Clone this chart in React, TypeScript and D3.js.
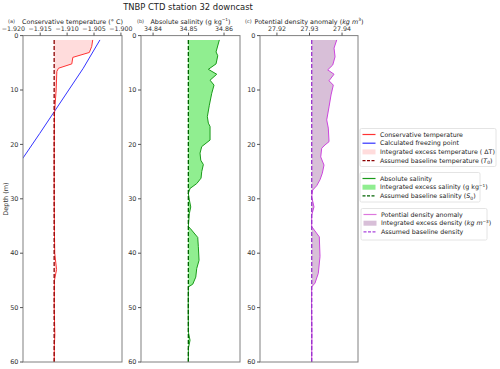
import React, { useRef, useEffect } from 'react';
import * as d3 from 'd3';

// data (depth in m)
const tempDepth = [0.8, 2, 3.1, 4, 5.2, 6, 6.6, 10, 14.4, 20, 30, 36, 40, 43, 45, 50, 55, 57, 60];
const consTemp = [-1.90524, -1.90543, -1.90587, -1.90894, -1.90913, -1.91161, -1.91191, -1.91204, -1.91235, -1.9124, -1.9124, -1.91236, -1.9123, -1.91196, -1.91236, -1.9124, -1.91228, -1.91238, -1.9124];
const tempBaseline = -1.91241;
const freezeDepth = [0.8, 6, 10, 14, 18, 22.5, 25];
const freezePoint = [-1.9039, -1.907, -1.9097, -1.9124, -1.9151, -1.9182, -1.9199];

const salDepth = [0.8, 3, 3.7, 5.2, 6.2, 7.1, 8.2, 9.1, 10.6, 12.8, 14.9, 16.1, 16.7, 19.2, 20.4, 21.6, 22.9, 23.7, 25, 26.2, 27.2, 28.1, 29, 30.2, 31.5, 32.7, 35.1, 35.4, 37.1, 38.8, 41.3, 42.8, 44.4, 45.7, 46.2, 50, 54.5, 56, 57.5, 60];
const salinity = [34.85868, 34.85775, 34.85823, 34.85775, 34.85558, 34.85794, 34.85606, 34.85718, 34.85654, 34.85586, 34.8553, 34.85558, 34.85606, 34.85606, 34.85372, 34.85324, 34.85344, 34.85417, 34.85372, 34.85352, 34.85231, 34.85042, 34.84994, 34.85023, 34.85062, 34.85023, 34.84994, 34.85042, 34.85259, 34.85276, 34.85296, 34.85231, 34.85203, 34.85118, 34.84994, 34.8499, 34.84995, 34.85042, 34.84995, 34.84994];
const salBaseline = 34.84994;

const densDepth = [0.8, 2.3, 3.9, 5.4, 6.3, 7.1, 8.3, 9.1, 10.9, 13.1, 15.5, 17, 19.5, 20.1, 20.7, 22.3, 23.8, 25.3, 26.5, 27.6, 28.4, 29.6, 31.5, 33, 35.1, 37, 40.6, 43.7, 45.5, 46.2, 50, 55, 60];
const density = [27.93837, 27.93754, 27.93785, 27.93714, 27.9356, 27.93754, 27.936, 27.93732, 27.93662, 27.936, 27.93529, 27.93578, 27.936, 27.93477, 27.93375, 27.93345, 27.93446, 27.93394, 27.93323, 27.93222, 27.93098, 27.93068, 27.93138, 27.93068, 27.93068, 27.93302, 27.93323, 27.93271, 27.93169, 27.93068, 27.93065, 27.93075, 27.93068];
const densBaseline = 27.93068;

const depthTicks = [0, 10, 20, 30, 40, 50, 60];
const tempTicks = [-1.92, -1.915, -1.91, -1.905, -1.9];
const salTicks = [34.84, 34.85, 34.86];
const densTicks = [27.92, 27.93, 27.94];

const legendTemp = ['Conservative temperature', 'Calculated freezing point', 'Integrated excess temperature ( ΔT)', 'Assumed baseline temperature'];
const legendSal = ['Absolute salinity', 'Integrated excess salinity (g kg', 'Assumed baseline salinity'];
const legendDens = ['Potential density anomaly', 'Integrated excess density', 'Assumed baseline density'];

const FONT = 'DejaVu Sans, sans-serif';

export default function App() {
  const ref = useRef<SVGSVGElement>(null);

  useEffect(() => {
    draw();
    // eslint-disable-next-line react-hooks/exhaustive-deps
  }, []);

  function panel(svg, opts) {
    const { id, x0, x1, domain, ticks, fmt, title, label, depth, values, baseline, line, fill, dash, extra } = opts;
    const x = d3.scaleLinear().domain(domain).range([x0, x1]);
    const y = d3.scaleLinear().domain([0, 60]).range([35.6, 362]);
    const g = svg.append('g');
    g.append('clipPath').attr('id', id).append('rect')
      .attr('x', x0).attr('y', y(0)).attr('width', x1 - x0).attr('height', y(60) - y(0));
    const body = g.append('g').attr('clip-path', `url(#${id})`);
    const pts = depth.map((d, i) => ({ d, v: values[i] }));
    const area = d3.area()
      .y((p) => y(p.d))
      .x0(x(baseline))
      .x1((p) => x(Math.max(p.v, baseline)));
    body.append('path').attr('d', area(pts)).attr('fill', fill);
    if (extra) {
      const fl = d3.line().x((p) => x(p.v)).y((p) => y(p.d));
      body.append('path')
        .attr('d', fl(extra.depth.map((d, i) => ({ d, v: extra.values[i] }))))
        .attr('fill', 'none').attr('stroke', extra.color).attr('stroke-width', 1);
    }
    const ln = d3.line().x((p) => x(p.v)).y((p) => y(p.d));
    body.append('path').attr('d', ln(pts)).attr('fill', 'none').attr('stroke', line).attr('stroke-width', 1);
    body.append('line')
      .attr('x1', x(baseline)).attr('x2', x(baseline))
      .attr('y1', y(depth[0])).attr('y2', y(depth[depth.length - 1]))
      .attr('stroke', dash).attr('stroke-width', 1.3).attr('stroke-dasharray', '4,2');

    // frame
    g.append('rect').attr('x', x0).attr('y', y(0)).attr('width', x1 - x0).attr('height', y(60) - y(0))
      .attr('fill', 'none').attr('stroke', '#808080').attr('stroke-width', 1);

    // depth ticks
    depthTicks.forEach((t) => {
      g.append('line').attr('x1', x0 - 3).attr('x2', x0).attr('y1', y(t)).attr('y2', y(t)).attr('stroke', '#555');
      g.append('text').attr('x', x0 - 4.5).attr('y', y(t)).attr('dy', '0.35em')
        .attr('text-anchor', 'end').attr('font-size', 6.5).attr('fill', '#333').attr('font-family', FONT).text(t);
    });
    // top ticks
    ticks.forEach((t) => {
      const px = x(t);
      if (px >= x0 - 0.5 && px <= x1 + 0.5) {
        g.append('line').attr('x1', px).attr('x2', px).attr('y1', y(0) - 3).attr('y2', y(0)).attr('stroke', '#555');
      }
      g.append('text').attr('x', px).attr('y', 31).attr('text-anchor', 'middle')
        .attr('font-size', 6.3).attr('fill', '#333').attr('font-family', FONT).text(fmt(t));
    });
    const tt = g.append('text').attr('x', (x0 + x1) / 2).attr('y', 24).attr('text-anchor', 'middle')
      .attr('font-size', 6.4).attr('fill', '#222').attr('font-family', FONT);
    title(tt);
    g.append('text').attr('x', label.x).attr('y', 22.5).attr('font-size', 5).attr('fill', '#333')
      .attr('font-family', FONT).text(label.t);
  }

  function legend(svg, x, y, w, h, items) {
    const g = svg.append('g');
    g.append('rect').attr('x', x).attr('y', y).attr('width', w).attr('height', h).attr('rx', 1.5)
      .attr('fill', 'white').attr('stroke', '#ddd').attr('stroke-width', 0.8);
    items.forEach((it, i) => {
      const cy = y + 6 + i * 8.7;
      if (it.kind === 'patch') {
        g.append('rect').attr('x', x + 2.5).attr('y', cy - 2.5).attr('width', 13).attr('height', 5).attr('fill', it.color);
      } else {
        g.append('line').attr('x1', x + 2.5).attr('x2', x + 15.5).attr('y1', cy).attr('y2', cy)
          .attr('stroke', it.color).attr('stroke-width', 1.2)
          .attr('stroke-dasharray', it.kind === 'dash' ? '3,1.5' : null);
      }
      const t = g.append('text').attr('x', x + 20).attr('y', cy).attr('dy', '0.35em')
        .attr('font-size', 6.3).attr('fill', '#222').attr('font-family', FONT);
      it.text(t);
    });
  }

  function draw() {
    const svg = d3.select(ref.current);
    svg.selectAll('*').remove();

    svg.append('text').attr('x', 188).attr('y', 10).attr('text-anchor', 'middle')
      .attr('font-size', 8.4).attr('fill', '#222').attr('font-family', FONT).text('TNBP CTD station 32 downcast');

    panel(svg, {
      id: 'clipA', x0: 23, x1: 122, domain: [-1.9182, -1.8998], ticks: tempTicks, fmt: d3.format('.3f'),
      title: (t) => t.text('Conservative temperature (° C)'),
      label: { x: 8, t: '(a)' },
      depth: tempDepth, values: consTemp, baseline: tempBaseline,
      line: '#ff3333', fill: '#ffdcdc', dash: '#8b0000',
      extra: { depth: freezeDepth, values: freezePoint, color: '#3333ff' },
    });
    panel(svg, {
      id: 'clipB', x0: 141, x1: 240, domain: [34.8366, 34.8645], ticks: salTicks, fmt: d3.format('.2f'),
      title: (t) => {
        t.append('tspan').text('Absolute salinity (g kg');
        t.append('tspan').attr('font-size', 4.3).attr('dy', -3).text('−1');
        t.append('tspan').attr('dy', 3).text(')');
      },
      label: { x: 137, t: '(b)' },
      depth: salDepth, values: salinity, baseline: salBaseline,
      line: '#1a9a1a', fill: '#90ee90', dash: '#006400',
    });
    panel(svg, {
      id: 'clipC', x0: 260, x1: 358, domain: [27.9148, 27.9449], ticks: densTicks, fmt: d3.format('.2f'),
      title: (t) => {
        t.append('tspan').text('Potential density anomaly (');
        t.append('tspan').attr('font-style', 'italic').text('kg m');
        t.append('tspan').attr('font-size', 4.3).attr('dy', -3).text('3');
        t.append('tspan').attr('dy', 3).text(')');
      },
      label: { x: 245, t: '(c)' },
      depth: densDepth, values: density, baseline: densBaseline,
      line: '#cc44dd', fill: '#d8bfd8', dash: '#9932cc',
    });

    svg.append('text').attr('transform', 'translate(8,199) rotate(-90)').attr('text-anchor', 'middle')
      .attr('font-size', 6.5).attr('fill', '#333').attr('font-family', FONT).text('Depth (m)');

    const sub = (t, main, letter) => {
      t.append('tspan').text(main + ' (');
      t.append('tspan').attr('font-style', 'italic').text(letter);
      t.append('tspan').attr('font-size', 4.5).attr('dy', 1.5).text('0');
      t.append('tspan').attr('dy', -1.5).text(')');
    };

    legend(svg, 360, 128.5, 136, 38, [
      { kind: 'line', color: '#ff3333', text: (t) => t.text(legendTemp[0]) },
      { kind: 'line', color: '#3333ff', text: (t) => t.text(legendTemp[1]) },
      { kind: 'patch', color: '#ffdcdc', text: (t) => t.text(legendTemp[2]) },
      { kind: 'dash', color: '#8b0000', text: (t) => sub(t, legendTemp[3], 'T') },
    ]);
    legend(svg, 360, 172.5, 120, 29.5, [
      { kind: 'line', color: '#1a9a1a', text: (t) => t.text(legendSal[0]) },
      { kind: 'patch', color: '#90ee90', text: (t) => {
        t.append('tspan').text(legendSal[1]);
        t.append('tspan').attr('font-size', 4.2).attr('dy', -2.5).text('−1');
        t.append('tspan').attr('dy', 2.5).text(')');
      } },
      { kind: 'dash', color: '#006400', text: (t) => sub(t, legendSal[2], 'S') },
    ]);
    legend(svg, 361, 208.5, 126, 31.5, [
      { kind: 'line', color: '#dd77dd', text: (t) => t.text(legendDens[0]) },
      { kind: 'patch', color: '#d8bfd8', text: (t) => {
        t.append('tspan').text(legendDens[1] + ' (');
        t.append('tspan').attr('font-style', 'italic').text('kg m');
        t.append('tspan').attr('font-size', 4.2).attr('dy', -2.5).text('−3');
        t.append('tspan').attr('dy', 2.5).text(')');
      } },
      { kind: 'dash', color: '#aa44dd', text: (t) => t.text(legendDens[2]) },
    ]);
  }

  return (
    <svg
      ref={ref}
      width={500}
      height={369}
      style={{ position: 'absolute', left: 0, top: 0, background: 'white' }}
    />
  );
}
